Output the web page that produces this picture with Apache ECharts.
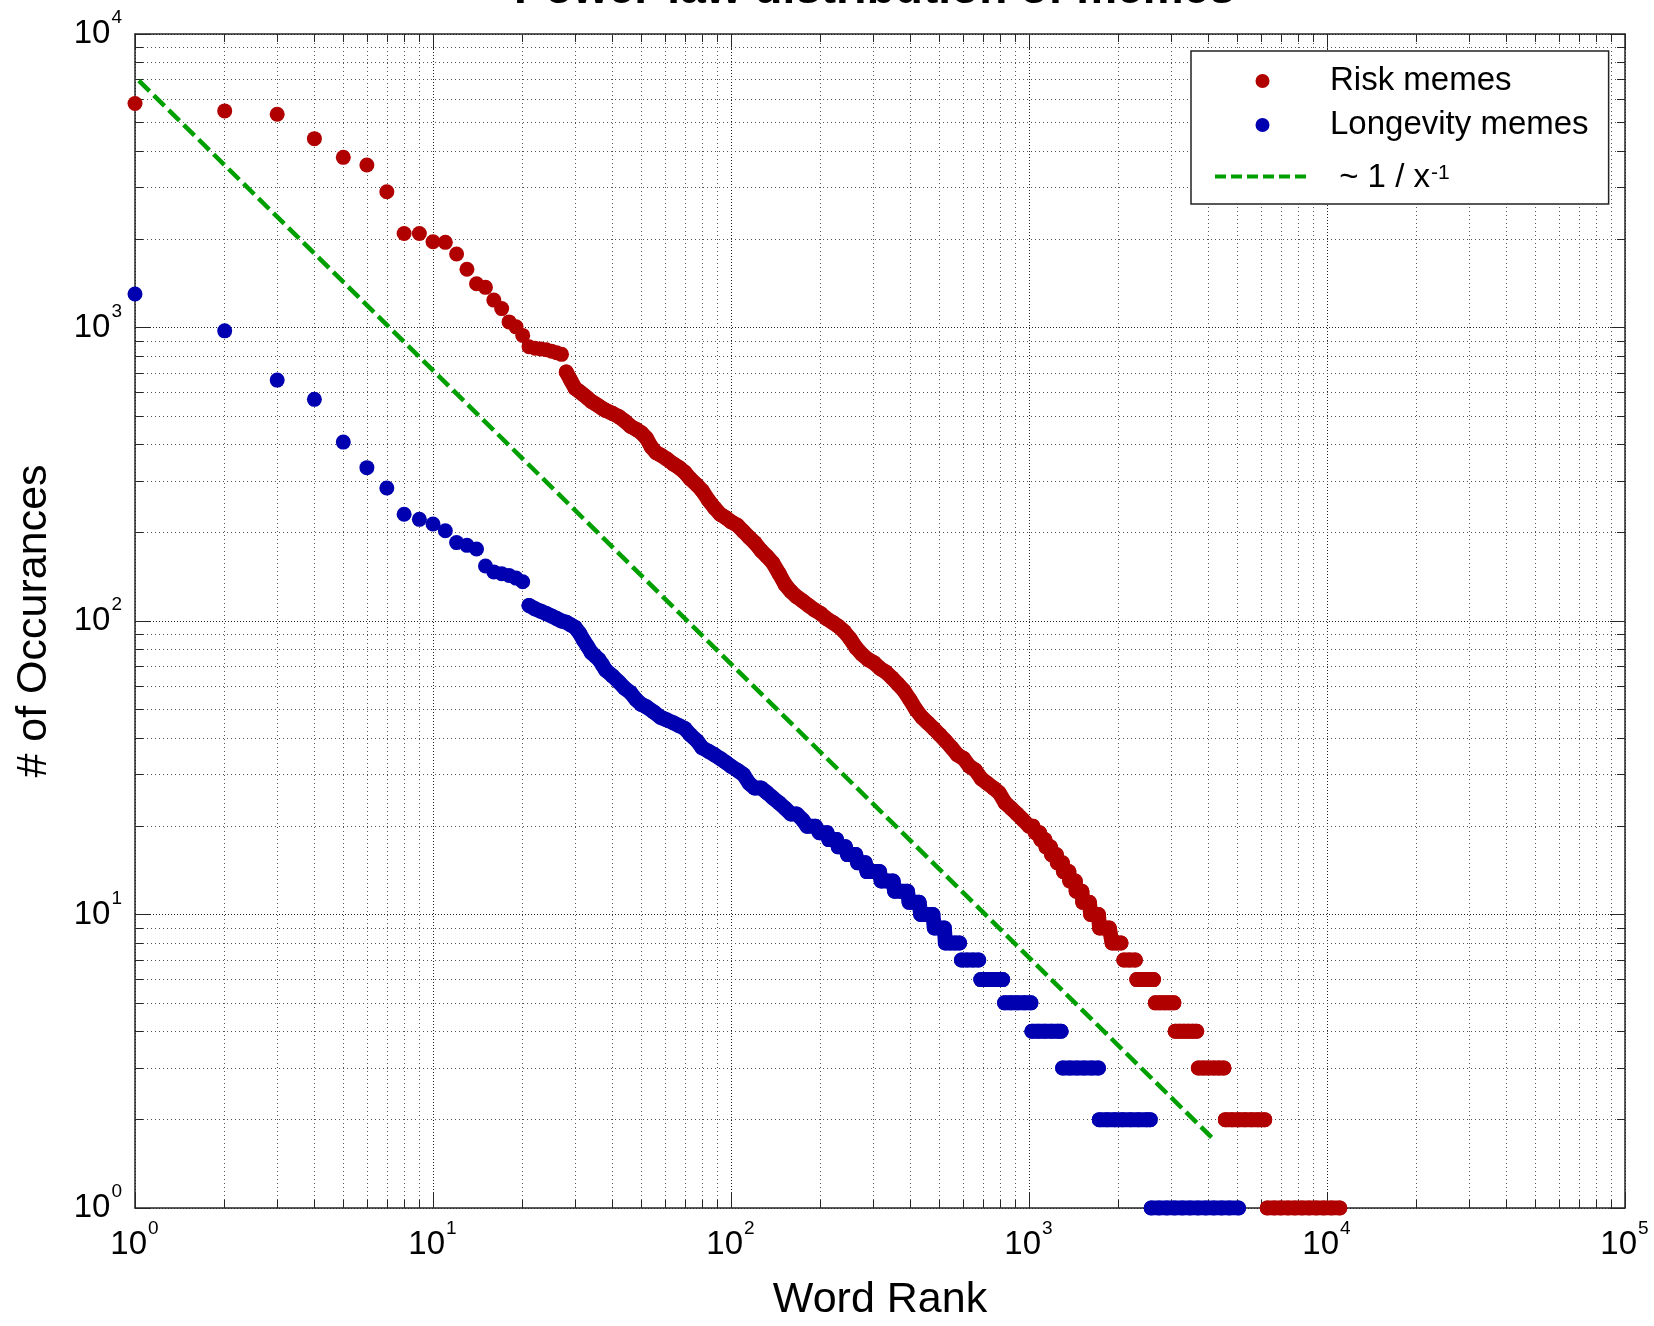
<!DOCTYPE html>
<html>
<head>
<meta charset="UTF-8">
<title>Power-law distribution of memes</title>
<script src="https://cdn.jsdelivr.net/npm/echarts@6/dist/echarts.min.js"></script>
<style>
  html, body { margin: 0; padding: 0; background: #fff; }
  #chart { width: 1654px; height: 1326px; }
</style>
</head>
<body>
<div id="chart"></div>
<script>
// word rank / number of occurances
var riskRank = [1, 2, 3, 4, 5, 6, 7, 8, 9, 10, 11, 12, 13, 14, 15, 16, 17, 18, 19, 20,
  21, 22, 23, 24, 25, 26, 27, 28, 29, 30, 31, 32, 33, 34, 35, 36, 37, 38,
  40, 42, 44, 46, 48, 50, 52, 54, 56, 58,
  61, 64, 67, 70, 73, 77, 80, 84, 88, 92, 96, 100,
  105, 110, 115, 120, 126, 132, 138, 145, 152, 159, 166, 174, 182, 191, 200,
  209, 219, 229, 240, 251, 263, 275, 288, 302, 316, 331, 347, 363, 380, 398,
  417, 437, 457, 479, 501, 525, 550, 575, 603, 631, 661, 692, 724, 759, 794,
  832, 871, 912, 955,
  1000, 1030, 1050, 1085, 1095, 1130, 1140, 1180, 1190, 1235, 1245, 1295,
  1305, 1360, 1370, 1430, 1440, 1505, 1515, 1595, 1610, 1660, 1710,
  1725, 1790, 1860, 1900, 1965, 2036, 2080, 2170, 2275,
  2300, 2380, 2460, 2540, 2617, 2655, 2750, 2850, 2950, 3063,
  3093, 3200, 3310, 3420, 3540, 3655, 3700, 3850, 4000, 4170, 4340, 4510,
  4560, 4800, 5050, 5300, 5580, 5870, 6180,
  6300, 6650, 7000, 7400, 7800, 8250, 8700, 9200, 9750, 10350, 11040];
var riskCount = [5800, 5470, 5330, 4400, 3800, 3580, 2900, 2090, 2090, 1960, 1950, 1780, 1580, 1410, 1370, 1240, 1160, 1045, 1005, 940,
  860, 850, 845, 840, 830, 820, 810, 705, 660, 620, 605, 590, 575, 560, 550, 540, 530, 522,
  510, 497, 480, 461, 450, 438, 420, 392, 375, 368,
  356, 343, 333, 321, 305, 290, 278, 258, 243, 231, 225, 218,
  212, 202, 193, 185, 174, 166, 158, 145, 133, 126, 121, 117, 113, 109, 106,
  102, 99, 96, 92, 87, 81, 77, 74, 72, 69, 67, 64, 61, 58, 54,
  50, 47, 45, 43, 41, 39, 37, 35, 34, 32, 31, 29, 28, 27, 26,
  24, 23, 22, 21,
  20, 20, 19, 19, 18, 18, 17, 17, 16, 16, 15, 15,
  14, 14, 13, 13, 12, 12, 11, 11, 10, 10, 10,
  9, 9, 9, 8, 8, 8, 7, 7, 7,
  6, 6, 6, 6, 6, 5, 5, 5, 5, 5,
  4, 4, 4, 4, 4, 4, 3, 3, 3, 3, 3, 3,
  2, 2, 2, 2, 2, 2, 2,
  1, 1, 1, 1, 1, 1, 1, 1, 1, 1, 1];
// ranks where a run of touching dots starts (dense part and the low-count steps)
var riskRunStart = [28, 2080, 2300, 2655, 3093, 3700, 4560, 6300];

var longRank = [1, 2, 3, 4, 5, 6, 7, 8, 9, 10, 11, 12, 13, 14, 15, 16, 17, 18, 19, 20,
  21, 22, 23, 24, 25, 26, 27, 28, 29, 30, 31, 32, 33, 34, 35, 36, 37, 38,
  40, 42, 44, 46, 48, 50, 52, 55, 58, 61, 64, 67, 70, 73, 77, 80, 84, 88, 92, 96, 100,
  105, 110, 115, 120, 126, 132, 138, 145, 152, 159, 166, 174,
  180, 192, 198, 210, 213, 226, 229, 242, 246, 262, 266, 282,
  286, 300, 315, 319, 335, 350, 354, 372, 391, 396, 412, 428,
  433, 455, 476, 481, 500, 520, 524, 545, 565, 585, 593, 620, 648, 678,
  689, 720, 750, 782, 816, 828, 870, 915, 965, 1015,
  1022, 1075, 1130, 1190, 1250, 1282, 1296, 1370, 1450, 1530, 1620, 1711,
  1722, 1830, 1940, 2060, 2190, 2330, 2480, 2552,
  2570, 2730, 2900, 3080, 3270, 3470, 3690, 3920, 4170, 4430, 4700, 5048];
var longCount = [1300, 974, 662, 569, 407, 333, 284, 231, 222, 214, 203, 185, 181, 176, 154, 147, 145, 143, 140, 136,
  113, 110, 108, 106, 104, 102, 100, 99, 97, 95, 91, 86, 82, 78, 76, 74, 71, 68,
  65, 62, 59, 57, 54, 52, 51, 49, 47, 46, 45, 44, 43, 41, 39, 37, 36, 35, 34, 33, 32,
  31, 30, 28, 27, 27, 26, 25, 24, 23, 22, 22, 21,
  20, 20, 19, 19, 18, 18, 17, 17, 16, 16, 15, 15,
  14, 14, 14, 13, 13, 13, 12, 12, 12, 11, 11, 11,
  10, 10, 10, 9, 9, 9, 8, 8, 8, 8, 7, 7, 7, 7,
  6, 6, 6, 6, 6, 5, 5, 5, 5, 5,
  4, 4, 4, 4, 4, 4, 3, 3, 3, 3, 3, 3,
  2, 2, 2, 2, 2, 2, 2, 2,
  1, 1, 1, 1, 1, 1, 1, 1, 1, 1, 1, 1];
var longRunStart = [21, 593, 689, 828, 1022, 1296, 1722, 2570];

// ends of the dashed reference line
var fitRank = [1.03, 4100];
var fitCount = [6940, 1.74];

var seriesNames = ['Risk memes', 'Longevity memes', '~ 1 / x^-1'];
var minorMult = [2, 3, 4, 5, 6, 7, 8, 9];
var xDecades = [1, 10, 100, 1000, 10000];
var yDecades = [1, 10, 100, 1000];

var FONT = '"Liberation Sans", Arial, Helvetica, sans-serif';
var AXIS = '#262626';
var GREEN = '#009f00';
var RED = '#b00000';
var BLUE = '#0000b0';
var DOT = 15;

function pairs(xs, ys) {
  return xs.map(function (x, i) { return [x, ys[i]]; });
}

// same points, cut into runs: an empty value breaks the line between runs
function runs(xs, ys, starts) {
  var out = [];
  xs.forEach(function (x, i) {
    if (x < starts[0]) return;
    if (starts.indexOf(x) > 0) out.push([x, null]);
    out.push([x, ys[i]]);
  });
  return out;
}

function powLabel(v) {
  var e = Math.round(Math.log(v) / Math.LN10);
  return '{b|10}{s|' + e + '}';
}
var tickRich = {
  b: { fontFamily: FONT, fontSize: 33, lineHeight: 44, color: '#000' },
  s: { fontFamily: FONT, fontSize: 19, lineHeight: 12, color: '#000', padding: [0, 1, 32, 1] }
};

// minor grid (dotted) and minor ticks on the four sides
var tx = Math.pow(10, 8 / 298), ty = Math.pow(10, 8 / 293.5);
var minorGrid = [], minorTicks = [];
xDecades.forEach(function (d) {
  minorMult.forEach(function (m) {
    var v = d * m;
    minorGrid.push({ xAxis: v });
    minorTicks.push([{ coord: [v, 1] }, { coord: [v, ty] }]);
    minorTicks.push([{ coord: [v, 10000] }, { coord: [v, 10000 / ty] }]);
  });
});
yDecades.forEach(function (d) {
  minorMult.forEach(function (m) {
    var v = d * m;
    minorGrid.push({ yAxis: v });
    minorTicks.push([{ coord: [1, v] }, { coord: [tx, v] }]);
    minorTicks.push([{ coord: [100000, v] }, { coord: [100000 / tx, v] }]);
  });
});

function sideAxis(pos, isX) {
  return {
    type: 'log', logBase: 10, min: 1, max: isX ? 100000 : 10000, position: pos,
    axisLine: { show: true, lineStyle: { color: AXIS, width: 1.5 } },
    axisTick: { show: true, inside: true, length: 15, lineStyle: { color: AXIS, width: 1 } },
    axisLabel: { show: false },
    splitLine: { show: false }
  };
}

function dots(name, color, ranks, counts) {
  return {
    name: name, type: 'scatter', z: 3,
    symbol: 'circle', symbolSize: DOT,
    itemStyle: { color: color, opacity: 1, borderWidth: 0 },
    emphasis: { disabled: true },
    data: pairs(ranks, counts)
  };
}

// the overlapping dots of dense ranks merge into a solid band
function band(name, color, ranks, counts, starts) {
  return {
    name: name, type: 'line', z: 3, silent: true,
    symbol: 'none', showSymbol: false, connectNulls: false,
    lineStyle: { color: color, width: DOT, cap: 'round', join: 'round', opacity: 1 },
    emphasis: { disabled: true },
    data: runs(ranks, counts, starts)
  };
}

function guide(name, lines, style) {
  return {
    name: name, type: 'line', data: [], z: 1, silent: true,
    markLine: {
      z: 1, silent: true, symbol: ['none', 'none'], label: { show: false },
      emphasis: { disabled: true },
      lineStyle: style,
      data: lines
    }
  };
}

var chart = echarts.init(document.getElementById('chart'), null, { renderer: 'canvas' });

var option = {
  animation: false,
  backgroundColor: '#fff',
  title: {
    text: 'Power-law distribution of memes',
    left: 514, top: -33, padding: 0,
    textStyle: { fontFamily: FONT, fontWeight: 'bold', fontSize: 46, color: '#000' }
  },
  legend: {
    data: [
      { name: seriesNames[0] },
      { name: seriesNames[1] },
      { name: seriesNames[2], itemStyle: { opacity: 0 }, lineStyle: { width: 4, type: [11, 5] } }
    ],
    orient: 'vertical',
    left: 1191, top: 51,
    padding: [12, 20, 2, 22],
    itemWidth: 95, itemHeight: 14, itemGap: 8,
    borderColor: '#222', borderWidth: 1.5,
    backgroundColor: '#fff',
    selectedMode: false,
    formatter: function (name) {
      return name === seriesNames[2] ? '{t| ~ 1 / x}{s|-1}' : name;
    },
    textStyle: {
      fontFamily: FONT, fontSize: 33, lineHeight: 36, color: '#000', padding: [0, 0, 0, 15],
      rich: {
        t: { fontFamily: FONT, fontSize: 33, lineHeight: 36, color: '#000', verticalAlign: 'bottom' },
        s: { fontFamily: FONT, fontSize: 21, lineHeight: 14, color: '#000', padding: [12, 1, 18, 1] }
      }
    }
  },
  grid: { left: 135, right: 29, top: 34, bottom: 118, outerBoundsMode: 'none' },
  xAxis: [{
    type: 'log', logBase: 10, min: 1, max: 100000, position: 'bottom',
    name: 'Word Rank', nameLocation: 'middle', nameGap: 71,
    nameTextStyle: { fontFamily: FONT, fontSize: 43, color: '#000' },
    axisLine: { show: true, lineStyle: { color: AXIS, width: 1.5 } },
    axisTick: { show: true, inside: true, length: 15, lineStyle: { color: AXIS, width: 1 } },
    axisLabel: { margin: 15, formatter: powLabel, rich: tickRich },
    splitLine: { show: true, lineStyle: { color: '#222', width: 1, type: [1, 2] } }
  }, sideAxis('top', true)],
  yAxis: [{
    type: 'log', logBase: 10, min: 1, max: 10000, position: 'left',
    name: '# of Occurances', nameLocation: 'middle', nameGap: 79,
    nameTextStyle: { fontFamily: FONT, fontSize: 43, color: '#000' },
    axisLine: { show: true, lineStyle: { color: AXIS, width: 1.5 } },
    axisTick: { show: true, inside: true, length: 15, lineStyle: { color: AXIS, width: 1 } },
    axisLabel: { margin: 12, formatter: powLabel, rich: tickRich },
    splitLine: { show: true, lineStyle: { color: '#222', width: 1, type: [1, 2] } }
  }, sideAxis('right', false)],
  series: [
    guide('minor grid', minorGrid, { color: '#555', width: 1, type: [1, 3] }),
    guide('minor ticks', minorTicks, { color: AXIS, width: 1, type: 'solid' }),
    dots(seriesNames[0], RED, riskRank, riskCount),
    band('risk band', RED, riskRank, riskCount, riskRunStart),
    dots(seriesNames[1], BLUE, longRank, longCount),
    band('longevity band', BLUE, longRank, longCount, longRunStart),
    {
      name: seriesNames[2], type: 'line', z: 4,
      symbol: 'none',
      itemStyle: { color: GREEN },
      lineStyle: { color: GREEN, width: 4.5, type: [15, 6] },
      emphasis: { disabled: true },
      data: pairs(fitRank, fitCount)
    }
  ]
};
chart.setOption(option);
</script>
</body>
</html>
